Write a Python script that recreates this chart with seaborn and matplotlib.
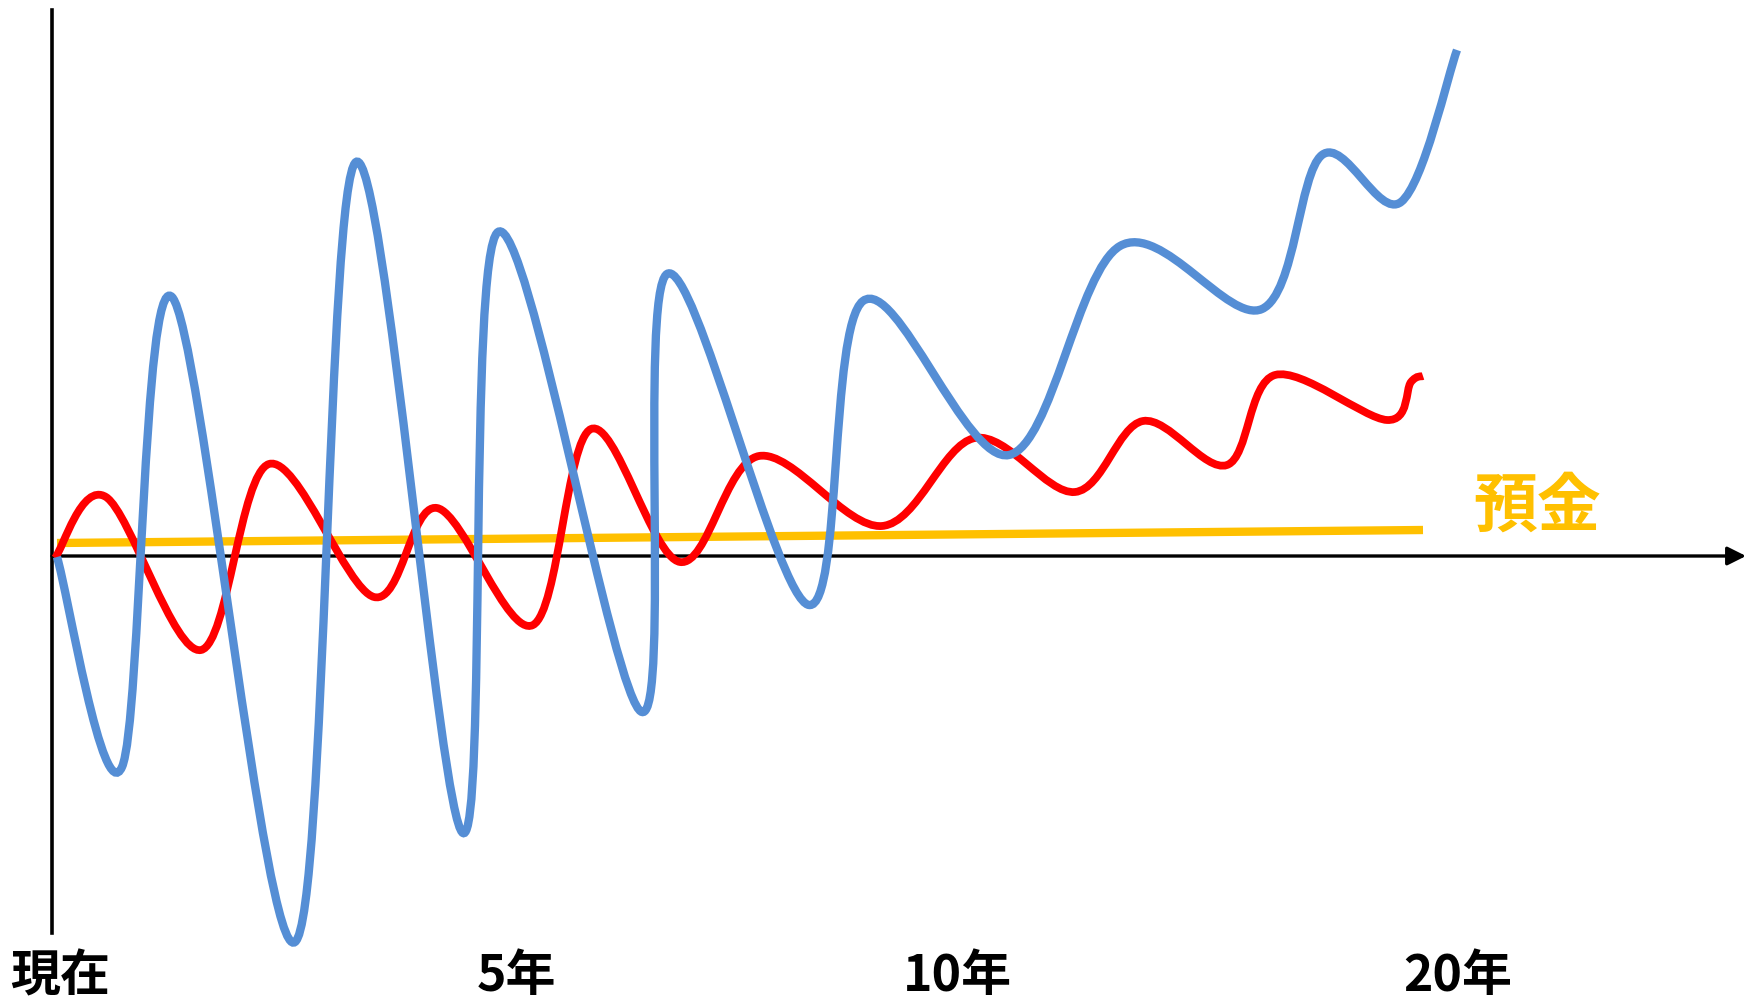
import numpy as np
import matplotlib
matplotlib.use("Agg")
import matplotlib.pyplot as plt
from matplotlib.path import Path
from matplotlib.patches import PathPatch
import seaborn as sns

# conceptual chart: t = time (arbitrary units), value = 0 on the time axis
# risky asset (blue)
blue_t = [57, 122, 172, 295, 356, 463, 498, 642, 667, 809, 863, 1009, 1120, 1262, 1322, 1401, 1457]
blue_v = [-1, -211, 259, -386, 394, -277, 324, -156, 282, -49, 255, 101, 310, 247, 401, 354, 506]

# balanced asset (red)
red_t = [55, 106, 201, 269, 374, 437, 533, 591, 680, 759, 882, 975, 1075, 1143, 1227, 1275, 1387, 1411, 1423]
red_v = [-2, 59, -94, 92, -41, 48, -69, 127, -6, 100, 30, 118, 64, 135, 91, 181, 136, 174, 180]

# deposit (yellow)
deposit_t = [57, 1423]
deposit_v = [13, 26]

tick_pos = [60, 516, 957, 1458]
tick_labels = ["現在", "5年", "10年", "20年"]
deposit_label = "預金"

BLUE = "#558ED5"
RED = "#FF0000"
GOLD = "#FFC000"


def smooth_path(t, v):
    # smoothed line like a spreadsheet "smooth line" (cubic bezier through points)
    p = np.column_stack([t, v]).astype(float)
    prev = np.vstack([p[:1], p[:-1]])
    nxt = np.vstack([p[1:], p[-1:]])
    tang = (nxt - prev) / 6.0
    verts = [p[0]]
    codes = [Path.MOVETO]
    for i in range(len(p) - 1):
        verts += [p[i] + tang[i], p[i + 1] - tang[i + 1], p[i + 1]]
        codes += [Path.CURVE4] * 3
    return Path(verts, codes)


sns.set_theme(style="white")
plt.rcParams['font.family'] = ['Noto Sans CJK JP', 'DejaVu Sans']

fig = plt.figure(figsize=(17.56, 10), dpi=100)
ax = fig.add_axes([0, 0.05, 1, 0.95])
ax.set_xlim(0, 1756)
ax.set_ylim(-394, 556)

# axes: vertical line + horizontal arrow
for s in ["top", "right", "bottom"]:
    ax.spines[s].set_visible(False)
ax.spines["left"].set_position(("data", 52))
ax.spines["left"].set_bounds(-377, 546)
ax.spines["left"].set_color("black")
ax.spines["left"].set_linewidth(2.6)
ax.annotate("", xy=(1746, 0), xytext=(52, 0),
            arrowprops=dict(arrowstyle="-|>", color="black", lw=2.4,
                            mutation_scale=28, shrinkA=0, shrinkB=0),
            zorder=1)

# deposit line
sns.lineplot(x=deposit_t, y=deposit_v, color=GOLD, linewidth=6, ax=ax,
             solid_capstyle="butt", zorder=2)

ax.add_patch(PathPatch(smooth_path(red_t, red_v), fill=False, edgecolor=RED,
                       linewidth=5.6, capstyle="butt", zorder=3))
ax.add_patch(PathPatch(smooth_path(blue_t, blue_v), fill=False, edgecolor=BLUE,
                       linewidth=6, capstyle="butt", zorder=4))

ax.text(1537, 49, deposit_label, color=GOLD, fontsize=46, fontweight="bold",
        ha="center", va="center")

ax.set_xticks(tick_pos)
ax.set_xticklabels(tick_labels, fontsize=36, fontweight="bold", color="black")
ax.tick_params(axis="x", length=0, pad=1)
ax.set_yticks([])
ax.set_xlabel("")
ax.set_ylabel("")
ax.grid(False)

fig.savefig("out.png", dpi=100, facecolor="white")
